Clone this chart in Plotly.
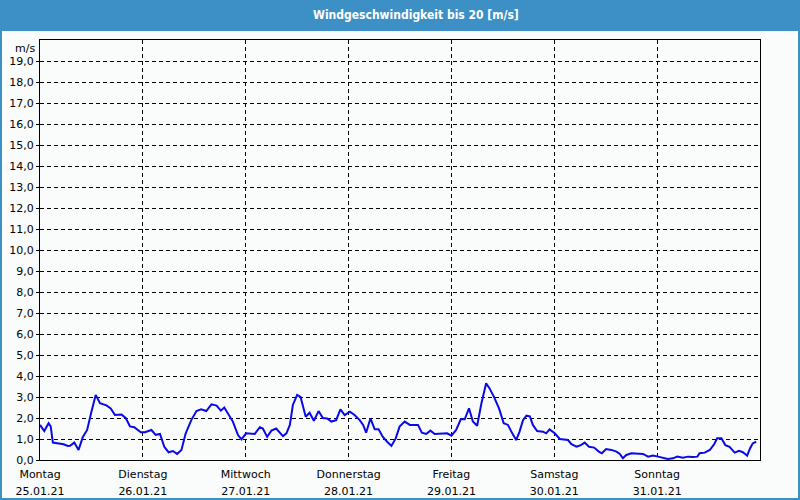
import plotly.graph_objects as go

# Hours since Monday 25.01.21 00:00 and wind speed in m/s
hours = [0, 1, 2, 2.5, 3, 4, 5.5, 6.5, 7, 8, 9, 10, 11, 12, 13, 14, 15.5, 16.5, 17.5, 19,
         20, 21, 22, 23.5, 24.5, 26, 27, 28, 29, 30, 31, 32, 33, 34, 35.3, 36.5, 37.6, 38.8,
         40, 41.2, 42.2, 43, 43.9, 45, 46.2, 47, 48.1, 49.3, 50.1, 51.3, 52, 53, 54, 55.1,
         56.7, 57.5, 58.3, 59, 60, 60.8, 62, 62.9, 63.9, 65, 66, 67, 68, 69.1, 70.1, 71.1,
         72.3, 73.4, 74.6, 75.4, 76.1, 77.1, 78.1, 79, 80, 81, 82, 83, 83.9, 85.1, 86.3,
         88.2, 89.1, 90.1, 91.1, 92.1, 93.6, 95, 96, 97.1, 98.2, 99.1, 100.1, 101, 102, 103,
         104.1, 104.9, 105.9, 107.1, 108.2, 109.2, 110.2, 111.1, 111.9, 112.7, 113.5, 114.3,
         115, 116, 117.4, 118.1, 118.9, 120.1, 121.3, 122.4, 123.2, 124, 125.2, 126.2, 127.1,
         128.1, 129.3, 130.4, 131.1, 132.1, 133.3, 134.5, 135.3, 136, 136.8, 138, 139.5, 140.7,
         141.9, 143, 144.2, 145.4, 146.5, 147.7, 148.7, 150, 151.2, 152.4, 153.4, 153.9, 155.1,
         156.3, 157.3, 158, 159, 159.9, 160.9, 162.1, 163.1, 164, 165, 165.7, 166.3, 167.1]
speed = [1.67, 1.38, 1.75, 1.6, 0.83, 0.8, 0.75, 0.67, 0.68, 0.83, 0.48, 1.1, 1.43, 2.3, 3.1,
         2.7, 2.6, 2.46, 2.14, 2.17, 2.0, 1.6, 1.56, 1.32, 1.32, 1.43, 1.2, 1.24, 0.63, 0.37,
         0.43, 0.29, 0.48, 1.27, 1.9, 2.33, 2.41, 2.33, 2.65, 2.59, 2.35, 2.5, 2.22, 1.83, 1.19,
         0.98, 1.27, 1.24, 1.24, 1.56, 1.5, 1.1, 1.4, 1.5, 1.14, 1.27, 1.67, 2.62, 3.1, 3.0,
         2.06, 2.25, 1.87, 2.33, 2.0, 1.98, 1.83, 1.9, 2.41, 2.14, 2.3, 2.14, 1.9, 1.67, 1.3,
         1.98, 1.46, 1.46, 1.1, 0.87, 0.67, 1.03, 1.59, 1.83, 1.67, 1.67, 1.3, 1.24, 1.4, 1.24,
         1.27, 1.27, 1.16, 1.43, 1.95, 1.94, 2.46, 1.83, 1.63, 2.7, 3.65, 3.41, 3.02, 2.46,
         1.75, 1.67, 1.27, 0.95, 1.35, 1.9, 2.11, 2.08, 1.67, 1.38, 1.35, 1.27, 1.46, 1.27,
         1.0, 0.95, 0.95, 0.75, 0.63, 0.71, 0.83, 0.63, 0.59, 0.4, 0.32, 0.52, 0.48, 0.4, 0.29,
         0.08, 0.24, 0.32, 0.32, 0.29, 0.16, 0.21, 0.16, 0.11, 0.05, 0.08, 0.16, 0.11, 0.16,
         0.14, 0.16, 0.32, 0.35, 0.48, 0.75, 1.03, 1.03, 0.71, 0.63, 0.35, 0.44, 0.37, 0.21,
         0.56, 0.79, 0.87]

day_hours = [0, 24, 48, 72, 96, 120, 144]
day_names = ["Montag", "Dienstag", "Mittwoch", "Donnerstag", "Freitag", "Samstag", "Sonntag"]
day_dates = ["25.01.21", "26.01.21", "27.01.21", "28.01.21", "29.01.21", "30.01.21", "31.01.21"]
y_ticks = list(range(0, 20))
y_labels = [f"{v},0" for v in y_ticks]

title_text = "Windgeschwindigkeit bis 20 [m/s]"
unit_text = "m/s"

BAR = "#3c90c5"
BG = "#f9fcfb"
FONT = "DejaVu Sans"

fig = go.Figure()
fig.add_trace(go.Scatter(x=hours, y=speed, mode="lines",
                         line=dict(color="#0a0ae6", width=2), hoverinfo="skip",
                         showlegend=False))
# invisible companion trace so the second (date) axis is drawn
fig.add_trace(go.Scatter(x=hours, y=speed, mode="lines", xaxis="x2",
                         line=dict(color="rgba(0,0,0,0)", width=0), hoverinfo="skip",
                         showlegend=False))

grid = dict(showgrid=True, gridcolor="#000000", griddash="4px,3px", gridwidth=1)

fig.update_layout(
    width=800, height=500,
    margin=dict(l=40, r=40, t=40, b=40),
    paper_bgcolor=BG, plot_bgcolor=BG,
    font=dict(family=FONT, size=11, color="#000000"),
    showlegend=False,
    xaxis=dict(range=[0, 168], tickmode="array", tickvals=day_hours, ticktext=day_names,
               **grid, showline=True, linecolor="#000000", linewidth=1, mirror=True,
               ticks="", zeroline=False, fixedrange=True, automargin=False,
               ticklabelstandoff=4),
    xaxis2=dict(range=[0, 168], overlaying="x", side="bottom", matches="x",
                tickmode="array", tickvals=day_hours, ticktext=day_dates,
                showgrid=False, showline=False, ticks="", zeroline=False,
                fixedrange=True, automargin=False, ticklabelstandoff=23),
    yaxis=dict(range=[0, 20], tickmode="array", tickvals=y_ticks, ticktext=y_labels,
               **grid, showline=True, linecolor="#000000", linewidth=1, mirror=True,
               ticks="outside", ticklen=3, tickcolor="#000000", zeroline=False,
               fixedrange=True, automargin=False),
    shapes=[
        dict(type="rect", xref="paper", yref="paper", x0=-0.06, x1=1.06, y0=1.0 + 9 / 420,
             y1=1.0 + 41 / 420, fillcolor=BAR, line=dict(width=0), layer="below"),
        dict(type="rect", xref="paper", yref="paper", x0=-40 / 720 + 1 / 720, x1=1 + 39 / 720,
             y0=-40 / 420 + 1 / 420, y1=1 + 40 / 420, fillcolor="rgba(0,0,0,0)",
             line=dict(color=BAR, width=2), layer="below"),
    ],
    annotations=[
        dict(text=f"<b>{title_text}</b>", xref="paper", yref="paper", x=(416 - 40) / 720,
             y=1 + 25 / 420, xanchor="center", yanchor="middle", showarrow=False,
             font=dict(family="DejaVu Sans Condensed", size=12, color="#ffffff")),
        dict(text=unit_text, xref="paper", yref="y", x=0, y=20, xanchor="right",
             yanchor="top", xshift=-3, showarrow=False, font=dict(size=11)),
    ],
)

fig.write_html("out.html")
